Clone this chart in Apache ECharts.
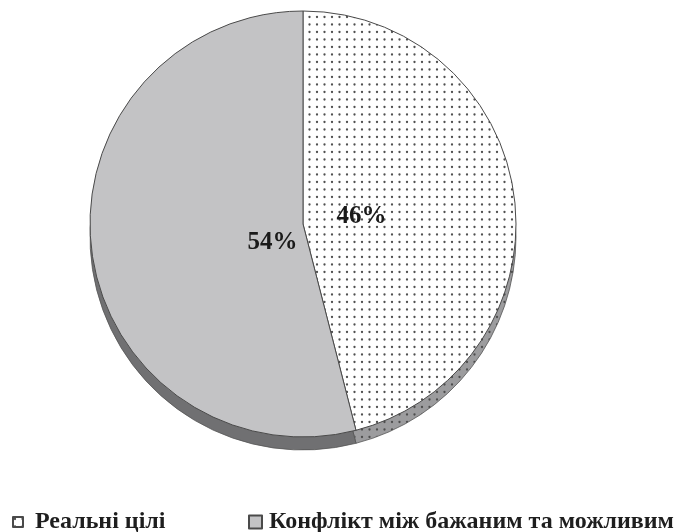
<!DOCTYPE html>
<html>
<head>
<meta charset="utf-8">
<script src="https://cdn.jsdelivr.net/npm/echarts@6/dist/echarts.min.js"></script>
<style>
  html, body { margin: 0; padding: 0; background: #fff; }
  #chart { width: 678px; height: 532px; }
</style>
</head>
<body>
<div id="chart"></div>
<script>
// Chart data
const categories = ['Реальні цілі', 'Конфлікт між бажаним та можливим'];
const values = [46, 54];

// Dotted fill tile
function dotTile(bg, dot) {
  const c = document.createElement('canvas');
  c.width = 15; c.height = 15;
  const g = c.getContext('2d');
  g.fillStyle = bg;
  g.fillRect(0, 0, 15, 15);
  g.fillStyle = dot;
  [[2, 2], [9.5, 2], [2, 9.5], [9.5, 9.5]].forEach(([x, y]) => {
    g.beginPath();
    g.arc(x, y, 1.15, 0, Math.PI * 2);
    g.fill();
  });
  return { image: c, repeat: 'repeat' };
}

const faceColors = [dotTile('#ffffff', '#505050'), '#c3c3c5'];
const sideColors = [dotTile('#9c9c9e', '#4e4e4e'), '#707072'];

const serif = '"Liberation Serif", "Times New Roman", "DejaVu Serif", serif';
const cx = 303, cy = 224, R = 213, depth = 13;

const chart = echarts.init(document.getElementById('chart'), null, { renderer: 'canvas' });

const faceData = categories.map((name, i) => ({
  name, value: values[i],
  itemStyle: { color: faceColors[i] }
}));
const sideData = categories.map((name, i) => ({
  name, value: values[i],
  itemStyle: { color: sideColors[i] }
}));
const labelData = categories.map((name, i) => ({ name, value: values[i] }));

// label nudges, per slice
const labelShift = [[0, 0], [28, 11]];

const legendText = {
  fontFamily: serif, fontSize: 24, fontWeight: 'bold', color: '#1e1e1e', lineHeight: 24
};

chart.setOption({
  animation: false,
  backgroundColor: '#ffffff',
  legend: [
    {
      data: [categories[0]],
      left: 7,
      top: 505,
      itemWidth: 10,
      itemHeight: 10,
      icon: 'rect',
      selectedMode: false,
      textStyle: Object.assign({ padding: [0, 0, 0, 7] }, legendText)
    },
    {
      data: [categories[1]],
      left: 243,
      top: 505,
      itemWidth: 13,
      itemHeight: 13,
      icon: 'rect',
      selectedMode: false,
      textStyle: Object.assign({ padding: [0, 0, 0, 2] }, legendText)
    }
  ],
  series: [
    {
      name: 'face',
      type: 'pie',
      z: 3,
      center: [cx, cy],
      radius: [0, R],
      startAngle: 90,
      clockwise: true,
      silent: true,
      label: { show: false },
      labelLine: { show: false },
      itemStyle: { borderColor: '#4a4a4a', borderWidth: 1 },
      data: faceData
    },
    {
      name: 'side',
      type: 'pie',
      z: 1,
      center: [cx, cy + depth],
      radius: [0, R],
      startAngle: 90,
      clockwise: true,
      silent: true,
      legendHoverLink: false,
      label: { show: false },
      labelLine: { show: false },
      itemStyle: { borderColor: '#555555', borderWidth: 0.8 },
      data: sideData
    },
    {
      name: 'labels',
      type: 'pie',
      z: 5,
      center: [cx, cy],
      radius: [0, 112],
      startAngle: 90,
      clockwise: true,
      silent: true,
      legendHoverLink: false,
      itemStyle: { color: 'rgba(0,0,0,0)' },
      label: {
        show: true,
        position: 'inside',
        formatter: p => p.value + '%',
        fontFamily: serif,
        fontSize: 25,
        fontWeight: 'bold',
        color: '#1a1a1a'
      },
      labelLayout: p => ({ dx: labelShift[p.dataIndex][0], dy: labelShift[p.dataIndex][1] }),
      labelLine: { show: false },
      data: labelData
    }
  ]
});
</script>
</body>
</html>
